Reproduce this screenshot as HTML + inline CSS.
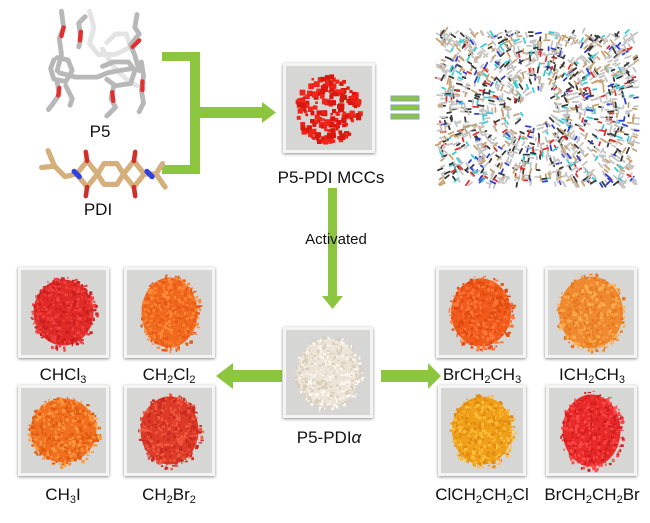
<!DOCTYPE html>
<html><head><meta charset="utf-8"><style>
html,body{margin:0;padding:0;background:#fff;}
body{width:650px;height:523px;position:relative;overflow:hidden;font-family:"Liberation Sans",Arial,sans-serif;}
.ph{position:absolute;background:#d6d6d4;border:3px solid #f4f4f4;box-shadow:0 1px 3px rgba(0,0,0,.45);box-sizing:border-box;overflow:hidden;}
.lb{position:absolute;font-size:17px;color:#111;text-align:center;white-space:nowrap;transform:translateX(-50%);}
sub{font-size:11px;vertical-align:-3px;line-height:0;}
svg{position:absolute;left:0;top:0;}
</style></head><body>
<svg width="650" height="523" id="s">
 <g fill="#8cc63f">
  <rect x="162" y="52" width="38" height="9"/>
  <rect x="162" y="165" width="38" height="9"/>
  <rect x="190" y="52" width="10" height="122"/>
  <rect x="200" y="107" width="63" height="11"/>
  <polygon points="262,102 276,112.5 262,123"/>
  <rect x="328" y="188" width="9" height="110"/>
  <polygon points="322,296 343,296 332.5,309"/>
  <rect x="233" y="370" width="49" height="12"/>
  <polygon points="233,363 216,376 233,389"/>
  <rect x="381" y="370" width="48" height="12"/>
  <polygon points="428,363 441,376 428,389"/>
 </g>
 <g fill="#8cc63f" stroke="#7fa6b8" stroke-width="1">
  <rect x="391" y="96" width="28" height="5"/>
  <rect x="391" y="105" width="28" height="5"/>
  <rect x="391" y="114" width="28" height="5"/>
 </g>
 <g fill="none" stroke-linecap="round" stroke-linejoin="round" stroke-width="4.5" transform="translate(96,62) scale(1.08) translate(-94,-62)">
  <g stroke="#e4e4e4">
   <polyline points="88,15 92,30 88,45 96,55 112,55 126,48 122,36 112,36 104,44"/>
   <polyline points="100,50 110,66 122,78 132,84"/>
  </g>
  <g stroke="#b8b8b8">
   <polyline points="62,15 64,30 60,40 62,55 58,70"/>
   <polyline points="84,20 78,26 80,40 78,48"/>
   <polyline points="55,60 52,68 55,78 66,80 72,70 68,60 58,58"/>
   <polyline points="60,72 75,76 95,76 105,72 115,70 128,68"/>
   <polyline points="100,66 110,62 124,62 130,70 126,82 112,84 104,78"/>
   <polyline points="58,80 60,92 56,98 50,106"/>
   <polyline points="110,86 108,96 112,104 104,112"/>
   <polyline points="132,18 130,30 134,36 126,46 130,56 134,70"/>
   <polyline points="136,62 138,75 136,88 138,100 134,108"/>
   <polyline points="66,84 72,96 70,102"/>
  </g>
  <g stroke="#e03030" stroke-width="4">
   <line x1="64" y1="30" x2="62" y2="38"/>
   <line x1="80" y1="34" x2="79" y2="42"/>
   <line x1="60" y1="86" x2="59" y2="93"/>
   <line x1="109" y1="90" x2="110" y2="98"/>
   <line x1="134" y1="42" x2="128" y2="48"/>
   <line x1="137" y1="80" x2="137" y2="88"/>
  </g>
 </g>
 <g fill="none" stroke-linecap="round" stroke-linejoin="round" stroke-width="4" transform="translate(104,174) scale(1.3) translate(-98,-168)">
  <g stroke="#d6b07c">
   <polygon points="98,160 108,160 113,168 108,176 98,176 93,168"/>
   <polyline points="93,168 85,158 77,168 85,178 93,168"/>
   <polyline points="113,168 121,158 129,168 121,178 113,168"/>
   <polyline points="77,168 68,170 60,162 55,150"/>
   <polyline points="60,162 50,163"/>
   <polyline points="129,168 138,168 143,160"/>
   <polyline points="138,168 145,178"/>
  </g>
  <g stroke="#d0302a" stroke-width="3.5">
   <line x1="85" y1="158" x2="84" y2="151"/>
   <line x1="85" y1="178" x2="84" y2="185"/>
   <line x1="121" y1="158" x2="122" y2="151"/>
   <line x1="121" y1="178" x2="122" y2="185"/>
  </g>
  <g stroke="#3040e0" stroke-width="4">
   <line x1="75" y1="166" x2="79" y2="170"/>
   <line x1="131" y1="166" x2="135" y2="170"/>
  </g>
 </g>
 <g id="cr"></g>
</svg>

<div class="lb" style="left:100px;top:122px;">P5</div>
<div class="lb" style="left:98px;top:200px;">PDI</div>

<div class="ph" id="mcc" style="left:283px;top:63px;width:92px;height:90px;"></div>
<div class="lb" style="left:331px;top:168px;">P5-PDI MCCs</div>
<div class="lb" style="left:336px;top:231px;font-size:15px;">Activated</div>

<div class="ph" id="alpha" style="left:283px;top:327px;width:90px;height:91px;"></div>
<div class="lb" style="left:329px;top:428px;">P5-PDI<i>α</i></div>

<div class="ph" id="p1" style="left:18px;top:267px;width:91px;height:91px;"></div>
<div class="ph" id="p2" style="left:124px;top:267px;width:91px;height:91px;"></div>
<div class="ph" id="p3" style="left:18px;top:385px;width:91px;height:91px;"></div>
<div class="ph" id="p4" style="left:124px;top:385px;width:91px;height:91px;"></div>
<div class="ph" id="p5" style="left:436px;top:267px;width:90px;height:91px;"></div>
<div class="ph" id="p6" style="left:545px;top:267px;width:92px;height:91px;"></div>
<div class="ph" id="p7" style="left:438px;top:385px;width:88px;height:91px;"></div>
<div class="ph" id="p8" style="left:546px;top:385px;width:91px;height:91px;"></div>

<div class="lb" style="left:63px;top:365px;">CHCl<sub>3</sub></div>
<div class="lb" style="left:169px;top:365px;">CH<sub>2</sub>Cl<sub>2</sub></div>
<div class="lb" style="left:482px;top:365px;">BrCH<sub>2</sub>CH<sub>3</sub></div>
<div class="lb" style="left:592px;top:365px;">ICH<sub>2</sub>CH<sub>3</sub></div>
<div class="lb" style="left:63px;top:485px;">CH<sub>3</sub>I</div>
<div class="lb" style="left:169px;top:485px;">CH<sub>2</sub>Br<sub>2</sub></div>
<div class="lb" style="left:482px;top:485px;">ClCH<sub>2</sub>CH<sub>2</sub>Cl</div>
<div class="lb" style="left:592px;top:485px;">BrCH<sub>2</sub>CH<sub>2</sub>Br</div>

<script>
var seed=7;function r(){seed=(seed*16807)%2147483647;return seed/2147483647;}
var NS="http://www.w3.org/2000/svg";
function powder(id,c1,c2,c3,rx,ry,n){
 var el=document.getElementById(id);var w=el.clientWidth,h=el.clientHeight;
 var s=document.createElementNS(NS,"svg");s.setAttribute("width",w);s.setAttribute("height",h);
 var cx=w/2,cy=h/2;var g="";
 g+='<ellipse cx="'+cx+'" cy="'+cy+'" rx="'+rx+'" ry="'+ry+'" fill="'+c1+'"/>';
 for(var i=0;i<n;i++){var a=r()*6.283,d=Math.sqrt(r())*1.1;var x=cx+Math.cos(a)*rx*d,y=cy+Math.sin(a)*ry*d;
  var col=r()<0.5?c2:c3;g+='<rect x="'+x.toFixed(1)+'" y="'+y.toFixed(1)+'" width="'+(1+r()*2.5).toFixed(1)+'" height="'+(1+r()*2.5).toFixed(1)+'" fill="'+col+'"/>';}
 s.innerHTML=g;el.appendChild(s);
}
powder("p1","#e02a26","#c81e20","#f04040",30,33,400);
powder("p2","#f06a1e","#e85818","#ff8a3a",28,35,400);
powder("p3","#f07020","#e05a10","#ff9a40",33,32,400);
powder("p4","#de3a28","#c82a20","#f05a40",29,34,400);
powder("p5","#f05a1a","#e04a10","#ff7a3a",30,34,400);
powder("p6","#f08a30","#e87820","#ffb050",32,36,400);
powder("p7","#f0a018","#e08a10","#ffc040",30,34,400);
powder("p8","#e82a28","#d01e20","#ff4a4a",29,36,400);
powder("alpha","#ece4d6","#d8ccba","#fbf6ee",31,34,400);
(function(){var el=document.getElementById("mcc");var s=document.createElementNS(NS,"svg");s.setAttribute("width",86);s.setAttribute("height",84);var g="";
 for(var i=0;i<200;i++){var a=r()*6.283,d=Math.sqrt(r());var x=40+Math.cos(a)*32*d,y=42+Math.sin(a)*34*d;var z=2.5+r()*3.5;
 g+='<rect x="'+x.toFixed(1)+'" y="'+y.toFixed(1)+'" width="'+z.toFixed(1)+'" height="'+z.toFixed(1)+'" fill="'+(r()<0.5?"#f02418":"#d81810")+'"/>';}
 s.innerHTML=g;el.appendChild(s);})();
(function(){var g="";var cx=537,cy=108;
 for(var i=0;i<1500;i++){var x=440+r()*195,y=32+r()*152;var dx=x-cx,dy=y-cy;var dd=Math.sqrt(dx*dx+dy*dy);if(dd<16)continue;
  var ang=Math.atan2(dy,dx)+(r()<0.6?0:1.57)+(r()-0.5)*0.4;var L=3+r()*3;var p=r();
  var col=p<0.45?"#c4c4c4":p<0.62?"#3a3a3a":p<0.8?"#c9a273":p<0.88?"#30d0d8":p<0.94?"#e03030":"#3040d0";
  g+='<line x1="'+x.toFixed(1)+'" y1="'+y.toFixed(1)+'" x2="'+(x+Math.cos(ang)*L).toFixed(1)+'" y2="'+(y+Math.sin(ang)*L).toFixed(1)+'" stroke="'+col+'" stroke-width="1.8" stroke-linecap="round"/>';}
 document.getElementById("cr").innerHTML=g;})();
</script>
</body></html>
